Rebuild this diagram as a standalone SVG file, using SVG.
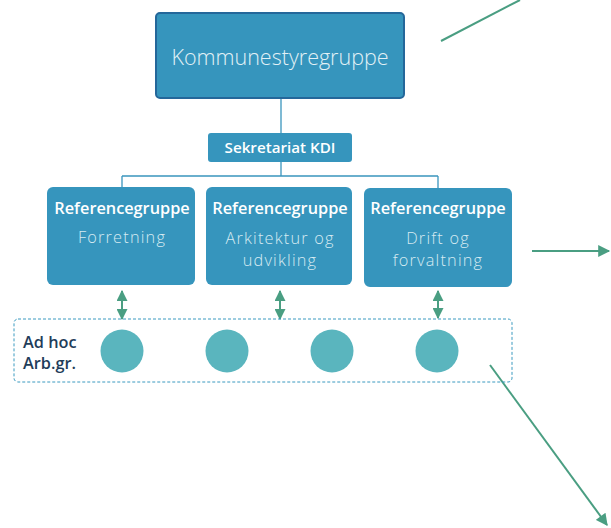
<svg xmlns="http://www.w3.org/2000/svg" width="611" height="528" viewBox="0 0 611 528">
<style>
.box{fill:#3695bd}
.t{font-family:"Open Sans","Noto Sans",sans-serif;fill:#ffffff;text-anchor:middle}
.b{font-weight:600;font-size:16.3px}
.l{font-weight:300;font-size:16.3px;fill:#d6ebf2;letter-spacing:1.2px}
.conn{stroke:#3a95bd;stroke-width:1.3;fill:none}
.g{stroke:#4a9e82;stroke-width:2;fill:none}
.circ{fill:#5ab5be}
.adhoc{font-family:"Open Sans","Noto Sans",sans-serif;font-weight:600;font-size:16.3px;fill:#1f3d5a}
</style>
<defs>
<marker id="ah" viewBox="0 0 10 10" refX="9" refY="5" markerWidth="6.5" markerHeight="6" orient="auto-start-reverse" markerUnits="strokeWidth">
<path d="M0,0 L10,5 L0,10 z" fill="#4a9e82"/>
</marker>
<marker id="ahs" viewBox="0 0 10 10" refX="9" refY="5" markerWidth="5.5" markerHeight="5.5" orient="auto-start-reverse" markerUnits="strokeWidth">
<path d="M0,0 L10,5 L0,10 z" fill="#4a9e82"/>
</marker>
</defs>
<g id="connectors">
<path class="conn" d="M281,98 V133"/>
<path class="conn" d="M281,162 V176 M122,176 H438 M122,176 V187 M438,176 V188"/>
<path class="g" d="M122,291 V319" stroke-width="1.5" marker-start="url(#ahs)" marker-end="url(#ahs)"/>
<path class="g" d="M280,291 V319" stroke-width="1.5" marker-start="url(#ahs)" marker-end="url(#ahs)"/>
<path class="g" d="M438,291 V318" stroke-width="1.5" marker-start="url(#ahs)" marker-end="url(#ahs)"/>
<path class="g" d="M441,41 L520,0" stroke-width="2.5"/>
<path class="g" d="M532,251 H609" stroke-width="2.5" marker-end="url(#ah)"/>
<path class="g" d="M490,365 L607,525" stroke-width="2.5" marker-end="url(#ah)"/>
</g>
<g id="kommunestyregruppe">
<rect x="156" y="13" width="248" height="85" rx="4" class="box" stroke="#24679a" stroke-width="2"/>
<text x="280" y="65" class="t" style="font-weight:300;font-size:21.5px;fill:#e2f1f6">Kommunestyregruppe</text>
</g>
<g id="sekretariat">
<rect x="208" y="133" width="144" height="29" rx="3" class="box"/>
<text x="280" y="153" class="t" style="font-weight:600;font-size:15.2px">Sekretariat KDI</text>
</g>
<g id="ref-forretning">
<rect x="47" y="187" width="148" height="98" rx="6" class="box"/>
<text x="122" y="214" class="t b">Referencegruppe</text>
<text x="122" y="243" class="t l">Forretning</text>
</g>
<g id="ref-arkitektur">
<rect x="206" y="187" width="146" height="98" rx="6" class="box"/>
<text x="280" y="214" class="t b">Referencegruppe</text>
<text x="280" y="244" class="t l">Arkitektur og</text>
<text x="280" y="266" class="t l">udvikling</text>
</g>
<g id="ref-drift">
<rect x="364" y="188" width="148" height="99" rx="6" class="box"/>
<text x="438" y="214" class="t b">Referencegruppe</text>
<text x="438" y="244" class="t l">Drift og</text>
<text x="438" y="266" class="t l">forvaltning</text>
</g>
<g id="adhoc">
<rect x="14" y="319" width="498" height="63" rx="4" fill="none" stroke="#3a9ac0" stroke-width="1" stroke-dasharray="3,2"/>
<text x="23" y="348" class="adhoc">Ad hoc</text>
<text x="23" y="369" class="adhoc">Arb.gr.</text>
<circle cx="122" cy="351" r="21.5" class="circ"/>
<circle cx="227" cy="351" r="21.5" class="circ"/>
<circle cx="332" cy="351" r="21.5" class="circ"/>
<circle cx="437" cy="351" r="21.5" class="circ"/>
</g>
</svg>
